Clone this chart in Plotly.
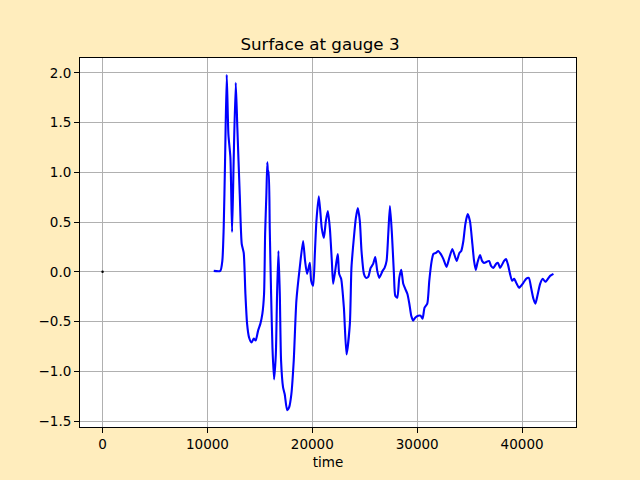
import plotly.graph_objects as go

time = [10600, 11230, 11420, 11550, 11680, 11840, 12000, 12190, 12350, 12500, 12700, 12850,
        13080, 13270, 13460, 13620, 13780, 13970, 14200, 14415, 14600, 14830, 15050, 15240,
        15400, 15500, 15620, 15710, 15780, 15850, 15940, 16070, 16200, 16350, 16520, 16640,
        16770, 16900, 17020, 17210, 17370, 17600, 17790, 18000, 18230, 18480, 18800, 19120,
        19310, 19500, 19760, 19890, 20080, 20240, 20390, 20620, 20900, 21100, 21290, 21480,
        21670, 21860, 21990, 22310, 22430, 22560, 22750, 23010, 23260, 23580, 23730, 23960,
        24150, 24340, 24530, 24690, 24920, 25110, 25330, 25560, 25800, 26000, 26190, 26380,
        26700, 26890, 27080, 27240, 27400, 27590, 27780, 27910, 28100, 28290, 28480, 28670,
        28860, 29060, 29250, 29430, 29620, 29810, 30100, 30320, 30510, 30700, 30960, 31150,
        31380, 31540, 31790, 32010, 32240, 32490, 32800, 33060, 33350, 33760, 34020, 34200,
        34400, 34590, 34810, 35030, 35260, 35420, 35580, 35740, 35990, 36180, 36370, 36850,
        37040, 37260, 37520, 37710, 37900, 38280, 38470, 38660, 38850, 39050, 39240, 39490,
        39710, 40120, 40380, 40640, 40860, 41080, 41270, 41460, 41720, 41970, 42220, 42670,
        42990]
surface = [0.01, 0.01, 0.11, 0.44, 1.11, 1.98, 1.38, 1.15, 0.40, 1.11, 1.90, 1.45,
           0.78, 0.28, 0.19, -0.22, -0.52, -0.66, -0.71, -0.67, -0.69, -0.59, -0.52, -0.42,
           -0.22, 0.38, 0.78, 1.10, 0.98, 1.01, 0.44, -0.22, -0.76, -1.08, -0.83, -0.22,
           0.21, -0.22, -0.89, -1.16, -1.23, -1.39, -1.36, -1.23, -0.89, -0.29, 0.04, 0.31,
           0.11, -0.02, 0.09, -0.09, -0.14, 0.18, 0.51, 0.76, 0.44, 0.34, 0.51, 0.61,
           0.44, 0.11, -0.12, 0.11, 0.18, -0.02, -0.07, -0.36, -0.83, -0.52, 0.04, 0.34,
           0.54, 0.64, 0.51, 0.21, -0.02, -0.06, -0.05, 0.04, 0.08, 0.15, 0.01, -0.06,
           0.01, 0.04, 0.11, 0.38, 0.66, 0.38, -0.02, -0.24, -0.26, -0.06, 0.02, -0.12,
           -0.17, -0.22, -0.32, -0.44, -0.49, -0.46, -0.44, -0.44, -0.47, -0.36, -0.32, -0.09,
           0.11, 0.18, 0.19, 0.21, 0.18, 0.13, 0.05, 0.14, 0.23, 0.11, 0.19, 0.21,
           0.31, 0.48, 0.58, 0.51, 0.28, 0.11, 0.02, 0.09, 0.17, 0.11, 0.09, 0.11,
           0.06, 0.04, 0.08, 0.09, 0.04, 0.11, 0.13, 0.07, -0.02, -0.09, -0.07, -0.12,
           -0.16, -0.11, -0.07, -0.06, -0.16, -0.27, -0.32, -0.24, -0.12, -0.07, -0.10, -0.04,
           -0.02]
origin_time = [0]
origin_surface = [0]

x_ticks = [0, 10000, 20000, 30000, 40000]
x_ticklabels = ["0", "10000", "20000", "30000", "40000"]
y_ticks = [-1.5, -1.0, -0.5, 0.0, 0.5, 1.0, 1.5, 2.0]
y_ticklabels = ["−1.5", "−1.0", "−0.5", "0.0", "0.5", "1.0", "1.5", "2.0"]

xmin, xmax = min(origin_time + time), max(origin_time + time)
ymin, ymax = min(origin_surface + surface), max(origin_surface + surface)
xpad = 0.05 * (xmax - xmin)
ypad = 0.05 * (ymax - ymin)

fig = go.Figure()
fig.add_trace(go.Scatter(x=time, y=surface, mode="lines",
                         line=dict(color="blue", width=2.1, shape="spline", smoothing=0.6),
                         showlegend=False))
fig.add_trace(go.Scatter(x=origin_time, y=origin_surface, mode="markers",
                         marker=dict(color="black", size=2.5), showlegend=False))

font = dict(family="DejaVu Sans", size=13.5, color="black")
fig.update_layout(
    width=640, height=480,
    paper_bgcolor="#ffedbd", plot_bgcolor="white",
    margin=dict(l=80, r=64, t=58, b=53),
    font=font,
    title=dict(text="Surface at gauge 3", x=0.5, xanchor="center",
               y=1 - 44 / 480, yanchor="middle", yref="container",
               font=dict(family="DejaVu Sans", size=16.7, color="black")),
    xaxis=dict(range=[xmin - xpad, xmax + xpad], tickvals=x_ticks, ticktext=x_ticklabels,
               showgrid=True, gridcolor="#b0b0b0", gridwidth=0.8, automargin=False,
               zeroline=False, showline=True, linecolor="black", linewidth=1,
               mirror=True, ticks="outside", ticklen=5, tickcolor="black",
               title=dict(text="time", standoff=6, font=font)),
    yaxis=dict(range=[ymin - ypad, ymax + ypad], tickvals=y_ticks, ticktext=y_ticklabels,
               showgrid=True, gridcolor="#b0b0b0", gridwidth=0.8, automargin=False,
               zeroline=False, showline=True, linecolor="black", linewidth=1,
               mirror=True, ticks="outside", ticklen=5, tickcolor="black"),
)
fig.write_html("out.html", config={"displayModeBar": False},
               post_script="document.body.style.margin='0';")
